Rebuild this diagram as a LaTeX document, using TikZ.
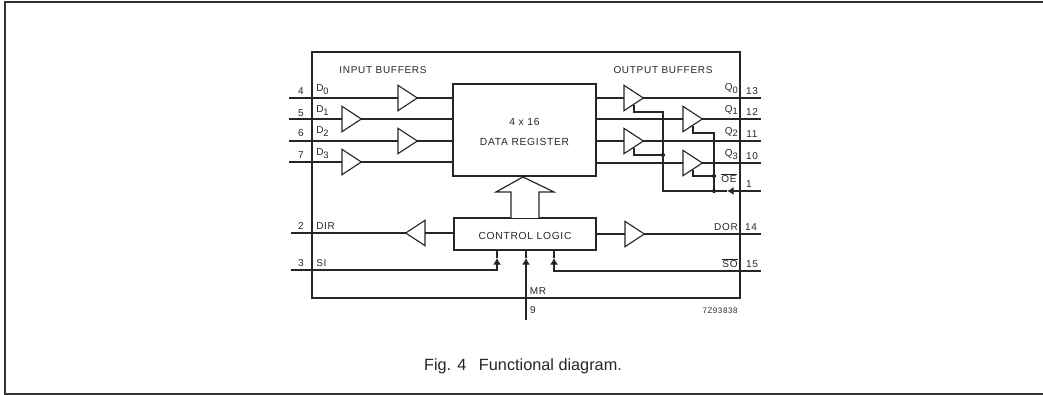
\documentclass[tikz,border=0pt]{standalone}
\usepackage{amsmath}
\usepackage{fontspec}
\setmainfont{Liberation Sans}
\newfontfamily\spaced[LetterSpace=7]{Liberation Sans}
\usepackage{tikz}
\usetikzlibrary{arrows.meta, positioning, shapes.geometric}

\newcommand{\lowdigit}[1]{\raisebox{-2.2pt}{\fontsize{7}{8}\selectfont #1}}

\tikzset{
    wire/.style={line width=0.85pt, black!85},
    blockbox/.style={draw, line width=1pt, black!85, inner sep=0pt, outer sep=0pt, align=center, font=\spaced\fontsize{7.7}{9}\selectfont},
    buffer/.style={draw, line width=0.85pt, black!85, isosceles triangle, isosceles triangle apex angle=64, isosceles triangle stretches, minimum width=19pt, minimum height=14.5pt, inner sep=0pt, outer sep=0pt},
    pinlabel/.style={inner sep=0pt, font=\spaced\fontsize{7.5}{9}\selectfont, black!85},
    headlabel/.style={inner sep=0pt, font=\spaced\fontsize{7.5}{9}\selectfont, black!85},
    junction/.style={circle, fill=black, inner sep=0pt, minimum size=3pt},
    tipped/.style={wire, -{Latex[length=5pt,width=6pt]}},
}

\begin{document}
\begin{tikzpicture}[x=0.75pt, y=-0.75pt]
    \useasboundingbox (0,0) rectangle (1043,395);

    % page frame, open on the right
    \draw[line width=1.2pt, black!80] (1043,2) -- (5,2) -- (5,394) -- (1043,394);

    % package and the two blocks
    \node[blockbox, minimum width=321pt, minimum height=184.5pt] (chip) at (526,175) {};
    \node[blockbox, minimum width=107.25pt, minimum height=69pt] (reg) at (524.5,130) {\rule{0pt}{8.5pt}4 x 16\\[6.5pt]DATA REGISTER};
    \node[blockbox, minimum width=106.5pt, minimum height=24pt, text height=8.3pt] (ctrl) at (525,234) {CONTROL LOGIC};
    \draw[wire, line width=0.9pt, fill=white] (511,218) -- (511,192) -- (496,192) -- (523,177) -- (554,192) -- (539,192) -- (539,218);

    % input side
    \coordinate (inD0) at (289,98);
    \coordinate (inD1) at (289,119);
    \coordinate (inD2) at (289,141);
    \coordinate (inD3) at (289,162);
    \node[buffer, anchor=west] (bufD0) at (398,98) {};
    \node[buffer, anchor=west] (bufD1) at (342,119) {};
    \node[buffer, anchor=west] (bufD2) at (398,141) {};
    \node[buffer, anchor=west] (bufD3) at (342,162) {};
    \draw[wire] (inD0) -- (bufD0.west);
    \draw[wire] (inD1) -- (bufD1.west);
    \draw[wire] (inD2) -- (bufD2.west);
    \draw[wire] (inD3) -- (bufD3.west);
    \draw[wire] (bufD0.east) -- (bufD0.east -| reg.west);
    \draw[wire] (bufD1.east) -- (bufD1.east -| reg.west);
    \draw[wire] (bufD2.east) -- (bufD2.east -| reg.west);
    \draw[wire] (bufD3.east) -- (bufD3.east -| reg.west);

    % output side
    \coordinate (outQ0) at (761,98);
    \coordinate (outQ1) at (761,119);
    \coordinate (outQ2) at (761,141);
    \coordinate (outQ3) at (761,163);
    \node[buffer, anchor=west] (bufQ0) at (624,98) {};
    \node[buffer, anchor=west] (bufQ1) at (683,119) {};
    \node[buffer, anchor=west] (bufQ2) at (624,141) {};
    \node[buffer, anchor=west] (bufQ3) at (683,163) {};
    \draw[wire] (bufQ0.west -| reg.east) -- (bufQ0.west);
    \draw[wire] (bufQ1.west -| reg.east) -- (bufQ1.west);
    \draw[wire] (bufQ2.west -| reg.east) -- (bufQ2.west);
    \draw[wire] (bufQ3.west -| reg.east) -- (bufQ3.west);
    \draw[wire] (bufQ0.east) -- (outQ0);
    \draw[wire] (bufQ1.east) -- (outQ1);
    \draw[wire] (bufQ2.east) -- (outQ2);
    \draw[wire] (bufQ3.east) -- (outQ3);

    % output enable
    \coordinate (inOE) at (761,191);
    \coordinate (headOE) at (727,191);
    \coordinate (busOE) at (663,191);
    \node[junction] (dotQ2) at (663,155) {};
    \node[junction] (dotQ3) at (714,176) {};
    \node[junction] (dotOE) at (714,191) {};
    \draw[tipped] (inOE) -- (headOE);
    \draw[wire] (headOE) -- (busOE) -- (663,112) -- (634,112) -- (634,105);
    \draw[wire] (dotOE) -- (714,133) -- (693,133) -- (693,126);
    \draw[wire] (dotQ2) -- (634,155) -- (634,148);
    \draw[wire] (dotQ3) -- (693,176) -- (693,170);

    % control logic
    \coordinate (inDIR) at (291,233);
    \coordinate (outDOR) at (761,234);
    \node[buffer, shape border rotate=180, anchor=east] (bufDIR) at (425,233) {};
    \node[buffer, anchor=west] (bufDOR) at (625,234) {};
    \draw[wire] (ctrl.west |- bufDIR.east) -- (bufDIR.east);
    \draw[wire] (bufDIR.west) -- (inDIR);
    \draw[wire] (ctrl.east |- bufDOR.west) -- (bufDOR.west);
    \draw[wire] (bufDOR.east) -- (outDOR);

    \coordinate (inSI) at (291,270);
    \coordinate (headSI) at (497,258);
    \coordinate (inMR) at (526,320);
    \coordinate (headMR) at (526,258);
    \coordinate (inSO) at (761,271);
    \coordinate (headSO) at (554,258);
    \draw[tipped] (inSI) -| (headSI);
    \draw[wire] (headSI) -- (headSI |- ctrl.south);
    \draw[tipped] (inMR) -- (headMR);
    \draw[wire] (headMR) -- (headMR |- ctrl.south);
    \draw[tipped] (inSO) -| (headSO);
    \draw[wire] (headSO) -- (headSO |- ctrl.south);

    % texts
    \node[headlabel] (titleIn) at (383,70) {INPUT BUFFERS};
    \node[headlabel] (titleOut) at (663,70) {OUTPUT BUFFERS};

    \node[pinlabel] (pin4) at (301,91) {4};
    \node[pinlabel] (pin5) at (301,113) {5};
    \node[pinlabel] (pin6) at (301,133) {6};
    \node[pinlabel] (pin7) at (301,155) {7};
    \node[pinlabel] (pin2) at (301,226) {2};
    \node[pinlabel] (pin3) at (301,263) {3};
    \node[pinlabel, anchor=west] (txtD0) at (316,90) {D\lowdigit{0}};
    \node[pinlabel, anchor=west] (txtD1) at (316,111) {D\lowdigit{1}};
    \node[pinlabel, anchor=west] (txtD2) at (316,132) {D\lowdigit{2}};
    \node[pinlabel, anchor=west] (txtD3) at (316,154) {D\lowdigit{3}};
    \node[pinlabel, anchor=west] (txtDIR) at (316,226) {DIR};
    \node[pinlabel, anchor=west] (txtSI) at (316,263) {SI};

    \node[pinlabel, anchor=east] (txtQ0) at (738,89) {Q\lowdigit{0}};
    \node[pinlabel, anchor=east] (txtQ1) at (738,110) {Q\lowdigit{1}};
    \node[pinlabel, anchor=east] (txtQ2) at (738,132) {Q\lowdigit{2}};
    \node[pinlabel, anchor=east] (txtQ3) at (738,155) {Q\lowdigit{3}};
    \node[pinlabel] (txtOE) at (729,178) {$\overline{\mbox{OE}}$};
    \node[pinlabel] (txtDOR) at (726,227) {DOR};
    \node[pinlabel] (txtSO) at (730,263) {$\overline{\mbox{SO}}$};
    \node[pinlabel] (pin13) at (752,91) {13};
    \node[pinlabel] (pin12) at (752,112) {12};
    \node[pinlabel] (pin11) at (752,134) {11};
    \node[pinlabel] (pin10) at (752,156) {10};
    \node[pinlabel] (pin1) at (749,184) {1};
    \node[pinlabel] (pin14) at (751,227) {14};
    \node[pinlabel] (pin15) at (752,264) {15};

    \node[pinlabel] (txtMR) at (538,291) {MR};
    \node[pinlabel] (pin9) at (533,310) {9};
    \node[pinlabel, font=\spaced\fontsize{6}{7}\selectfont] (partno) at (720,311) {7Z93838};

    \node[inner sep=0pt, font=\fontsize{12.2}{14}\selectfont, black!85] (caption) at (523,366) {Fig. 4\hspace{0.5em} Functional diagram.};
\end{tikzpicture}
\end{document}
